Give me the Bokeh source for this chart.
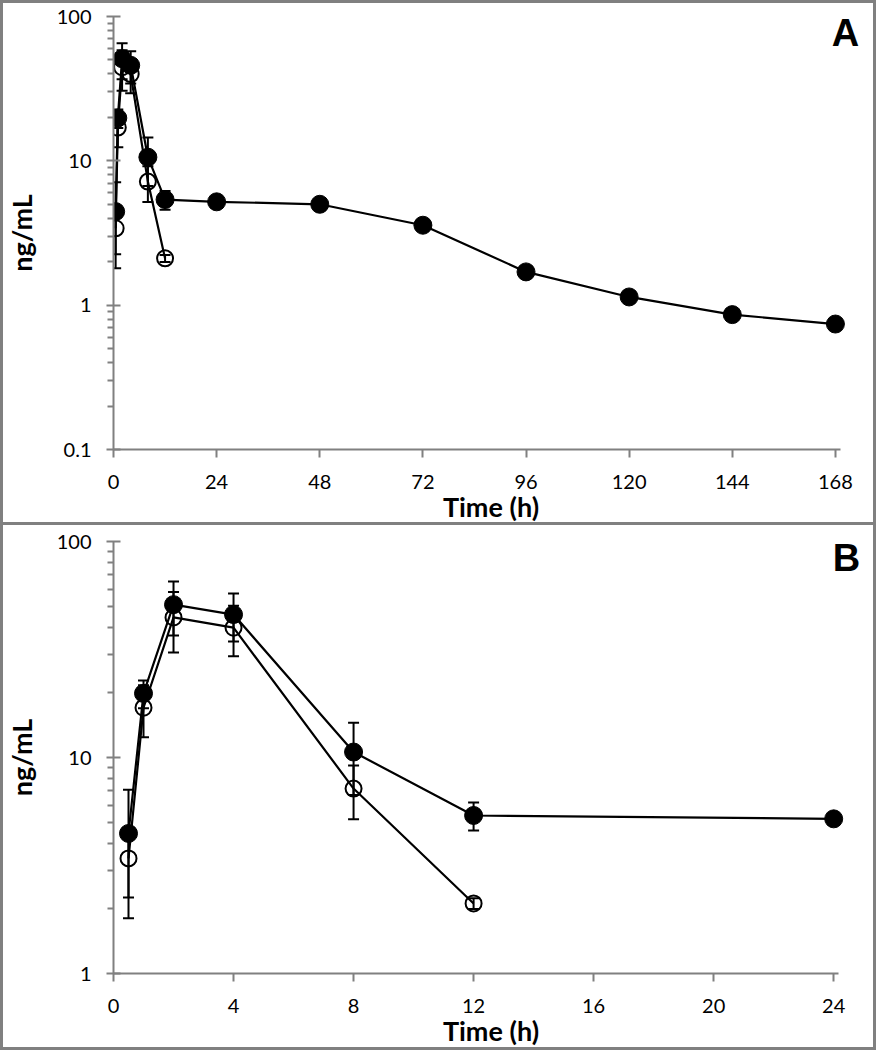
from bokeh.plotting import figure
from bokeh.models import Range1d, FixedTicker, Whisker, TeeHead, ColumnDataSource, Label
from bokeh.layouts import column
from bokeh.embed import file_html
from bokeh.resources import INLINE

# ---- data ----
time_filled = [0.5, 1, 2, 4, 8, 12, 24, 48, 72, 96, 120, 144, 168]
conc_filled = [4.45, 19.8, 51.0, 45.9, 10.6, 5.39, 5.2, 5.0, 3.58, 1.70, 1.14, 0.86, 0.74]
time_err_filled = [0.5, 1, 2, 4, 8, 12]
sd_filled = [2.65, 2.9, 14.3, 11.5, 3.9, 0.8]

time_open = [0.5, 1, 2, 4, 8, 12]
conc_open = [3.41, 17.0, 44.5, 39.9, 7.18, 2.11]
sd_open = [1.16, 4.6, 13.9, 10.5, 2.0, 0.12]

y_ticks = [0.1, 1, 10, 100]
x_ticks_a = [0, 24, 48, 72, 96, 120, 144, 168]
x_ticks_b = [0, 4, 8, 12, 16, 20, 24]
x_label = "Time (h)"
y_label = "ng/mL"

GRAY = "#808080"
FONT = "Lato"

y_minor = []
for d in [0.1, 1, 10]:
    for k in range(2, 10):
        y_minor.append(round(d * k, 6))

fill_err_conc = conc_filled[:len(time_err_filled)]


def make_panel(letter, x_end, x_bound, t_max, y_start, x_ticks, w, h, bl, br, bt, bb,
               lab_x, lab_y, shadow):
    p = figure(width=w, height=h, y_axis_type="log",
               x_range=Range1d(0, x_end), y_range=Range1d(y_start, 100),
               output_backend="svg", toolbar_location=None,
               min_border_left=bl, min_border_right=br, min_border_top=bt, min_border_bottom=bb)
    p.styles = {"background-color": "white", "box-shadow": shadow}
    p.outline_line_color = None
    p.xgrid.visible = False
    p.ygrid.visible = False
    p.background_fill_color = None
    p.border_fill_color = None

    yt = [t for t in y_ticks if t >= y_start]
    ym = [t for t in y_minor if t >= y_start]
    p.yaxis.ticker = FixedTicker(ticks=yt, minor_ticks=ym)
    p.xaxis.ticker = FixedTicker(ticks=x_ticks)
    p.yaxis.major_label_overrides = {0.1: "0.1", 1: "1", 10: "10", 100: "100"}
    p.xaxis.bounds = (0, x_bound)

    for ax in (p.xaxis[0], p.yaxis[0]):
        ax.axis_line_color = GRAY
        ax.axis_line_width = 2
        ax.major_tick_line_color = GRAY
        ax.major_tick_line_width = 2
        ax.minor_tick_line_color = GRAY
        ax.minor_tick_line_width = 2
        ax.major_label_text_font = FONT
        ax.major_label_text_font_size = "20px"
        ax.major_label_text_color = "black"
        ax.axis_label_text_font = FONT
        ax.axis_label_text_font_style = "bold"
        ax.axis_label_text_font_size = "27px"
        ax.axis_label_text_color = "black"

    p.xaxis.major_tick_in = 0
    p.xaxis.major_tick_out = 8
    p.xaxis.minor_tick_in = 0
    p.xaxis.minor_tick_out = 0
    p.xaxis.major_label_standoff = 17
    p.xaxis.axis_label = x_label
    p.xaxis.axis_label_standoff = -2

    p.yaxis.major_tick_in = 7
    p.yaxis.major_tick_out = 7
    p.yaxis.minor_tick_in = 0
    p.yaxis.minor_tick_out = 6
    p.yaxis.major_label_standoff = 15
    p.yaxis.axis_label = y_label
    p.yaxis.axis_label_standoff = 16

    tf = [t for t in time_filled if t <= t_max]
    cf = conc_filled[:len(tf)]

    # lines
    p.line(tf, cf, line_color="black", line_width=2.2)
    p.line(time_open, conc_open, line_color="black", line_width=2.2)

    # error bars
    src_f = ColumnDataSource(dict(
        x=time_err_filled,
        lo=[c - s for c, s in zip(fill_err_conc, sd_filled)],
        hi=[c + s for c, s in zip(fill_err_conc, sd_filled)]))
    src_o = ColumnDataSource(dict(
        x=time_open,
        lo=[c - s for c, s in zip(conc_open, sd_open)],
        hi=[c + s for c, s in zip(conc_open, sd_open)]))
    for src in (src_o, src_f):
        wk = Whisker(source=src, base="x", upper="hi", lower="lo", dimension="height",
                     line_color="black", line_width=2, level="underlay",
                     upper_head=TeeHead(size=11, line_color="black", line_width=2),
                     lower_head=TeeHead(size=11, line_color="black", line_width=2))
        p.add_layout(wk)

    # markers
    p.scatter(time_open, conc_open, size=16, fill_color=None,
              line_color="black", line_width=2)
    p.scatter(tf, cf, size=18, fill_color="black",
              line_color="black", line_width=1)

    p.add_layout(Label(x=lab_x, y=lab_y, x_units="screen", y_units="screen",
                       text=letter, text_font="Liberation Sans", text_font_style="bold",
                       text_font_size="38px", text_align="center",
                       text_baseline="middle", text_color="black"))
    return p


pa = make_panel("A", 175.7, 169.2, 1000, 0.1, x_ticks_a, 876, 525, 113, 8, 16, 76, 732, 417,
                f"inset 0 0 0 3px {GRAY}")
pb = make_panel("B", 25.16, 24.17, 24, 1, x_ticks_b, 876, 525, 110, 8, 16, 77, 733, 416,
                f"inset 3px 0 0 0 {GRAY}, inset -3px 0 0 0 {GRAY}, inset 0 -3px 0 0 {GRAY}")

layout = column(pa, pb, spacing=0)
open("out.html", "w").write(file_html(layout, INLINE))
